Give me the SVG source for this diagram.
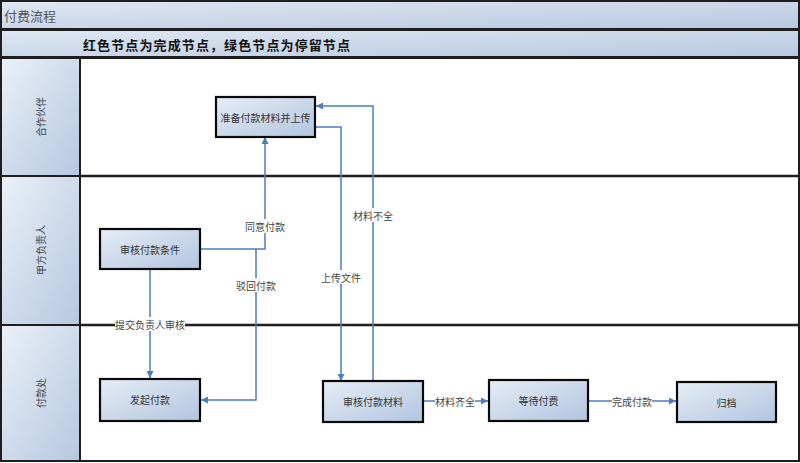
<svg xmlns="http://www.w3.org/2000/svg" width="800" height="463" viewBox="0 0 800 463">
<defs>
<linearGradient id="gBar" x1="0" y1="0" x2="1" y2="1">
<stop offset="0" stop-color="#dfe7f2"/><stop offset="1" stop-color="#b7c8e0"/>
</linearGradient>
<linearGradient id="gHead" x1="0" y1="0" x2="1" y2="1">
<stop offset="0" stop-color="#eaf0f7"/><stop offset="1" stop-color="#b5c7e0"/>
</linearGradient>
<linearGradient id="gNode" x1="0" y1="0" x2="1" y2="1">
<stop offset="0" stop-color="#e6edf6"/><stop offset="1" stop-color="#b1c4df"/>
</linearGradient>
<marker id="arr" viewBox="0 0 10 10" refX="10" refY="5" markerWidth="7" markerHeight="7" markerUnits="userSpaceOnUse" orient="auto">
<path d="M0,0 L10,5 L0,10 z" fill="#4a7ebb"/>
</marker>
<style>
.bar{fill:url(#gBar);stroke:#1e1e1e;stroke-width:2}
.head{fill:url(#gHead);stroke:#1e1e1e;stroke-width:2}
.lane{fill:#fff;stroke:#1e1e1e;stroke-width:2}
.node{fill:url(#gNode);stroke:#0a0a0a;stroke-width:2.2}
.nt{font-family:"Noto Sans CJK SC","Noto Sans",sans-serif;font-size:10px;fill:#333;text-anchor:middle;dominant-baseline:central}
.ht{font-family:"Noto Sans CJK SC","Noto Sans",sans-serif;font-size:10px;fill:#444;text-anchor:middle;dominant-baseline:central}
.conn{fill:none;stroke:#4a7ebb;stroke-width:1.5}
.lbg{fill:#fff}
.lt{font-family:"Noto Sans CJK SC","Noto Sans",sans-serif;font-size:10px;fill:#444;text-anchor:middle;dominant-baseline:central}
</style>
</defs>
<rect x="0" y="0" width="800" height="463" fill="#fff"/>
<g id="title">
<rect class="bar" x="1" y="1" width="798" height="28"/>
<text x="4" y="15" font-family="'Noto Sans CJK SC','Noto Sans',sans-serif" font-size="13" fill="#555" dominant-baseline="central">付费流程</text>
</g>
<g id="legend">
<rect class="bar" x="1" y="30" width="798" height="27"/>
<text x="83" y="44" font-family="'Noto Sans CJK SC','Noto Sans',sans-serif" font-size="13" font-weight="bold" fill="#111" dominant-baseline="central" textLength="267">红色节点为完成节点，绿色节点为停留节点</text>
</g>
<g id="lanes">
<rect class="lane" x="1" y="58" width="798" height="403"/>
<line x1="1" y1="176" x2="799" y2="176" stroke="#1e1e1e" stroke-width="2.5"/>
<line x1="1" y1="325" x2="799" y2="325" stroke="#1e1e1e" stroke-width="2.5"/>
<rect class="head" x="1" y="58" width="79" height="118"/>
<rect class="head" x="1" y="176" width="79" height="149"/>
<rect class="head" x="1" y="325" width="79" height="136"/>
<text class="ht" transform="translate(40,117) rotate(-90)">合作伙伴</text>
<text class="ht" transform="translate(40,250) rotate(-90)">甲方负责人</text>
<text class="ht" transform="translate(40,393) rotate(-90)">付款处</text>
</g>
<g id="connectors">
<path class="conn" d="M200,249 H265 V137" marker-end="url(#arr)"/>
<path class="conn" d="M256,249 V400 H201" marker-end="url(#arr)"/>
<path class="conn" d="M150,269 V378" marker-end="url(#arr)"/>
<path class="conn" d="M315,127 H341 V381" marker-end="url(#arr)"/>
<path class="conn" d="M373,381 V106 H316" marker-end="url(#arr)"/>
<path class="conn" d="M423,401 H488" marker-end="url(#arr)"/>
<path class="conn" d="M588,401 H676" marker-end="url(#arr)"/>
<rect class="lbg" x="245" y="219" width="40" height="14"/>
<text class="lt" x="265" y="226">同意付款</text>
<rect class="lbg" x="236" y="278" width="40" height="14"/>
<text class="lt" x="256" y="285">驳回付款</text>
<rect class="lbg" x="115" y="317" width="70" height="14"/>
<text class="lt" x="150" y="324">提交负责人审核</text>
<rect class="lbg" x="321" y="270" width="40" height="14"/>
<text class="lt" x="341" y="277">上传文件</text>
<rect class="lbg" x="353" y="208" width="40" height="14"/>
<text class="lt" x="373" y="215">材料不全</text>
<rect class="lbg" x="435" y="394" width="40" height="14"/>
<text class="lt" x="455" y="401">材料齐全</text>
<rect class="lbg" x="612" y="394" width="40" height="14"/>
<text class="lt" x="632" y="401">完成付款</text>
</g>
<g id="n1">
<rect class="node" x="216" y="97" width="99" height="40"/>
<text class="nt" x="265.5" y="117">准备付款材料并上传</text>
</g>
<g id="n2">
<rect class="node" x="100" y="229" width="100" height="40"/>
<text class="nt" x="150" y="249">审核付款条件</text>
</g>
<g id="n3">
<rect class="node" x="100" y="379" width="100" height="42"/>
<text class="nt" x="150" y="399">发起付款</text>
</g>
<g id="n4">
<rect class="node" x="323" y="381" width="100" height="41"/>
<text class="nt" x="373" y="401.5">审核付款材料</text>
</g>
<g id="n5">
<rect class="node" x="489" y="380" width="99" height="41"/>
<text class="nt" x="538.5" y="400.5">等待付费</text>
</g>
<g id="n6">
<rect class="node" x="677" y="382" width="99" height="40"/>
<text class="nt" x="726.5" y="402">归档</text>
</g>
</svg>
